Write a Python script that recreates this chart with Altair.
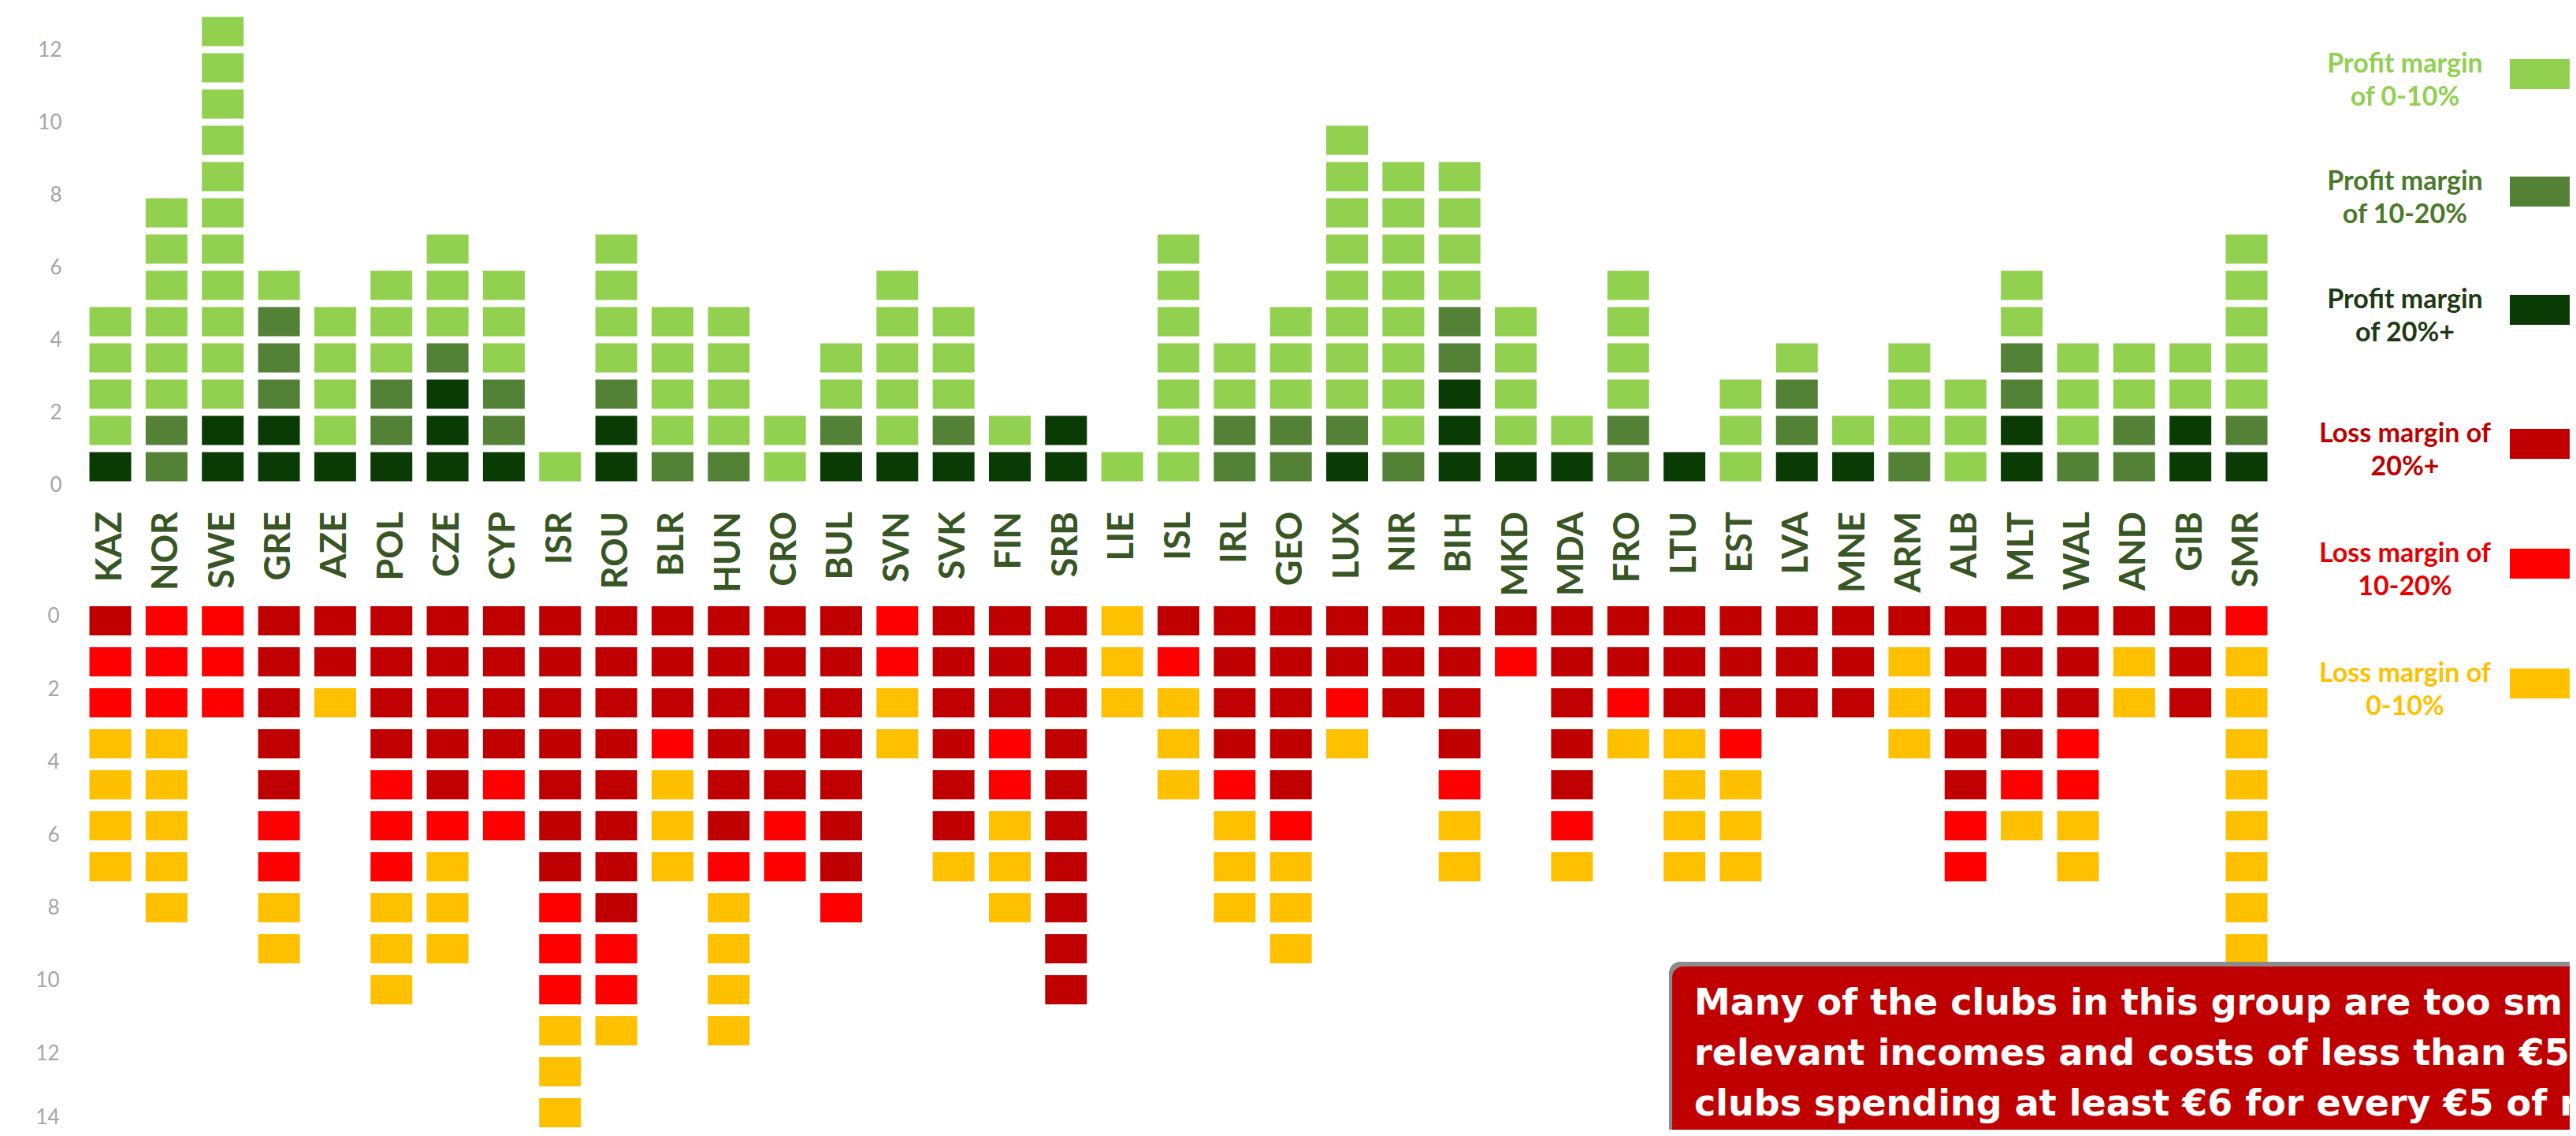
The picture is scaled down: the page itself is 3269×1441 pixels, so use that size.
import altair as alt
import pandas as pd

# ---------------- data ----------------
countries = ["KAZ", "NOR", "SWE", "GRE", "AZE", "POL", "CZE", "CYP", "ISR", "ROU",
             "BLR", "HUN", "CRO", "BUL", "SVN", "SVK", "FIN", "SRB", "LIE", "ISL",
             "IRL", "GEO", "LUX", "NIR", "BIH", "MKD", "MDA", "FRO", "LTU", "EST",
             "LVA", "MNE", "ARM", "ALB", "MLT", "WAL", "AND", "GIB", "SMR"]

# clubs per profit band (stacked upwards: 20%+, 10-20%, 0-10%)
profit_20plus = [1, 0, 2, 2, 1, 1, 3, 1, 0, 2, 0, 0, 0, 1, 1, 1, 1, 2, 0, 0,
                 0, 0, 1, 0, 3, 1, 1, 0, 1, 0, 1, 1, 0, 0, 2, 0, 0, 2, 1]
profit_10_20 = [0, 2, 0, 3, 0, 2, 1, 2, 0, 1, 1, 1, 0, 1, 0, 1, 0, 0, 0, 0,
                2, 2, 1, 1, 2, 0, 0, 2, 0, 0, 2, 0, 1, 0, 2, 1, 2, 0, 1]
profit_0_10 = [4, 6, 11, 1, 4, 3, 3, 3, 1, 4, 4, 4, 2, 2, 5, 3, 1, 0, 1, 7,
               2, 3, 8, 8, 4, 4, 1, 4, 0, 3, 1, 1, 3, 3, 2, 3, 2, 2, 5]

# clubs per loss band (stacked downwards: 20%+, 10-20%, 0-10%)
loss_20plus = [1, 0, 0, 5, 2, 4, 5, 4, 7, 8, 3, 6, 5, 7, 0, 6, 3, 10, 0, 1,
               4, 5, 2, 3, 4, 1, 5, 2, 3, 3, 3, 3, 1, 5, 4, 3, 1, 3, 0]
loss_10_20 = [2, 3, 3, 2, 0, 3, 1, 2, 3, 2, 1, 1, 2, 1, 2, 0, 2, 0, 0, 1,
              1, 1, 1, 0, 1, 1, 1, 1, 0, 1, 0, 0, 0, 2, 1, 2, 0, 0, 1]
loss_0_10 = [4, 5, 0, 2, 1, 3, 3, 0, 3, 1, 3, 4, 0, 0, 2, 1, 3, 0, 3, 3,
             3, 3, 1, 0, 2, 0, 1, 1, 4, 3, 0, 0, 3, 0, 1, 2, 2, 0, 8]

profit_ticks = [0, 2, 4, 6, 8, 10, 12]
loss_ticks = [0, 2, 4, 6, 8, 10, 12, 14]

cat_codes = ["P0", "P10", "P20", "L20", "L10", "L0"]
cat_colors = ["#92D050", "#538135", "#0B3B05", "#C00000", "#FF0000", "#FFC000"]
legend_lines = [["Profit margin", "of 0-10%"], ["Profit margin", "of 10-20%"],
                ["Profit margin", "of 20%+"], ["Loss margin of", "20%+"],
                ["Loss margin of", "10-20%"], ["Loss margin of", "0-10%"]]
legend_text_colors = ["#92D050", "#4A7A2A", "#1E3A12", "#C00000", "#E60000", "#FFC000"]

box_lines = ["Many of the clubs in this group are too sm",
             "relevant incomes and costs of less than €5",
             "clubs spending at least €6 for every €5 of r"]

# ---------------- tables ----------------
top_rows = []
bot_rows = []
for i, c in enumerate(countries):
    seq = ["P20"] * profit_20plus[i] + ["P10"] * profit_10_20[i] + ["P0"] * profit_0_10[i]
    for k, cat in enumerate(seq):
        top_rows.append({"country": c, "cat": cat, "lo": k + 0.1, "hi": k + 0.9})
    seq = ["L20"] * loss_20plus[i] + ["L10"] * loss_10_20[i] + ["L0"] * loss_0_10[i]
    for k, cat in enumerate(seq):
        bot_rows.append({"country": c, "cat": cat, "s0": k, "s1": k + 0.712})
top_df = pd.DataFrame(top_rows)
bot_df = pd.DataFrame(bot_rows)
cty_df = pd.DataFrame({"country": countries})
tick_df = pd.DataFrame({"tick": loss_ticks})
one = pd.DataFrame({"a": [0]})

W, H = 3161, 1425
FONT = "Lato"

xscale = alt.Scale(domain=countries, range=[4.33, 2786.67], paddingInner=0.257, paddingOuter=0.1285)
xenc = alt.X("country:N", sort=countries, scale=xscale, axis=None)
cscale = alt.Scale(domain=cat_codes, range=cat_colors)

axis_style = dict(orient="left", grid=False, domain=False, ticks=False, tickSize=0,
                  labelColor="#A6A6A6", labelFontSize=26, labelFont=FONT, title=None)

top_layer = alt.Chart(top_df).mark_rect().encode(
    x=xenc,
    y=alt.Y("lo:Q", scale=alt.Scale(domain=[-17.783, 13.196], nice=False, zero=False),
            axis=alt.Axis(values=profit_ticks, labelPadding=22, **axis_style)),
    y2="hi:Q",
    color=alt.Color("cat:N", scale=cscale, legend=None),
)

bot_layer = alt.Chart(bot_df).mark_rect().encode(
    x=xenc,
    y=alt.Y("s0:Q", scale=alt.Scale(domain=[-14.635, 12.769], nice=False, zero=False, reverse=True),
            axis=None),
    y2="s1:Q",
    color=alt.Color("cat:N", scale=cscale, legend=None),
)

bot_axis = alt.Chart(tick_df).mark_point(opacity=0).encode(
    y=alt.Y("tick:Q", scale=alt.Scale(domain=[-16.753, 14.091], nice=False, zero=False, reverse=True),
            axis=alt.Axis(values=loss_ticks, labelPadding=25,
                          labelOffset={"condition": {"test": "datum.value == 14", "value": -11}, "value": 0},
                          **axis_style)),
)

labels = alt.Chart(cty_df).mark_text(
    angle=270, align="right", baseline="middle", font=FONT, fontWeight="bold",
    fontSize=45, color="#375623"
).encode(x=xenc, y=alt.value(641), text="country:N")

leg_centers = [74, 223, 373, 543, 695, 847]
legend_layers = []
for i in range(6):
    cy = leg_centers[i]
    legend_layers.append(
        alt.Chart(one).mark_text(
            align="center", baseline="middle", font=FONT, fontWeight="bold",
            fontSize=34, lineHeight=42, color=legend_text_colors[i]
        ).encode(x=alt.value(2952), y=alt.value(cy), text=alt.value(legend_lines[i]))
    )
    legend_layers.append(
        alt.Chart(one).mark_rect(color=cat_colors[i]).encode(
            x=alt.value(3085), x2=alt.value(3300), y=alt.value(cy - 7), y2=alt.value(cy + 31))
    )

box_shadow = alt.Chart(one).mark_rect(color="#8C8C8C", cornerRadius=14).encode(
    x=alt.value(2018), x2=alt.value(3400), y=alt.value(1212), y2=alt.value(1600))
box = alt.Chart(one).mark_rect(color="#C00000", cornerRadius=14).encode(
    x=alt.value(2022), x2=alt.value(3400), y=alt.value(1218), y2=alt.value(1600))
box_text = alt.Chart(one).mark_text(
    align="left", baseline="top", font="DejaVu Sans", fontWeight="bold", fontSize=46,
    lineHeight=64, color="white"
).encode(x=alt.value(2050), y=alt.value(1243), text=alt.value(box_lines))

chart = alt.layer(
    top_layer, bot_layer, bot_axis, labels, *legend_layers, box_shadow, box, box_text
).resolve_scale(y="independent").properties(
    width=W, height=H,
    background="white",
    autosize=alt.AutoSizeParams(type="none"),
    padding={"left": 92, "top": 0, "right": 0, "bottom": 0},
).configure_view(stroke=None)

chart.save("out.html", embed_options={"renderer": "svg", "actions": False})
